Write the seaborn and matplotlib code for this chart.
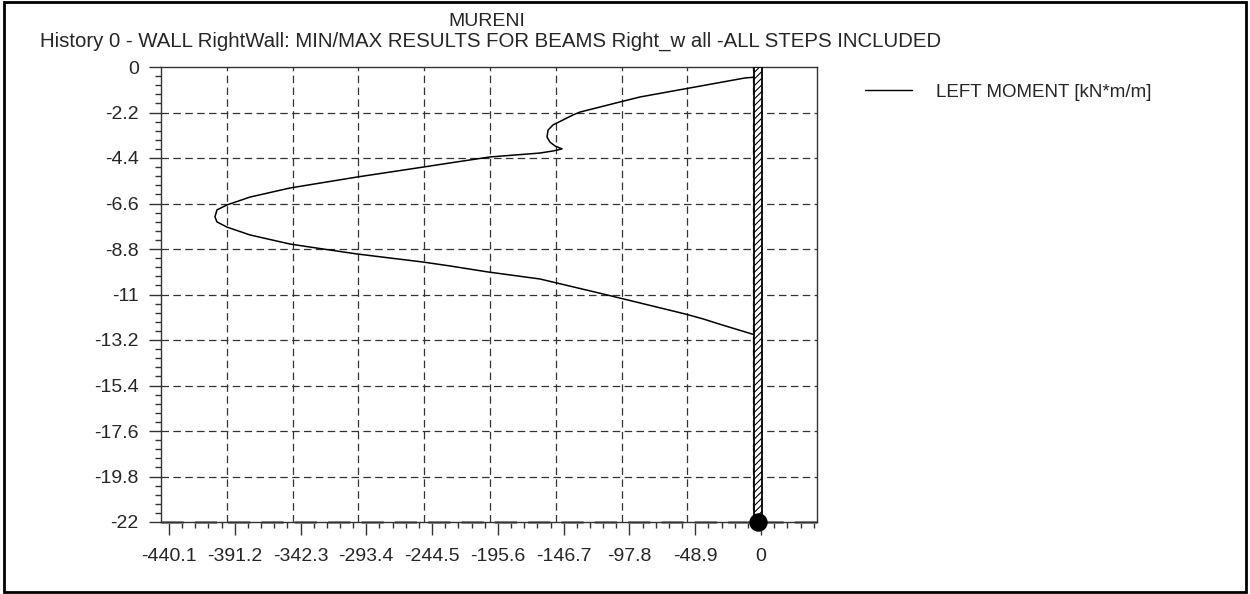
import numpy as np
import pandas as pd
import matplotlib
matplotlib.use("Agg")
import matplotlib.pyplot as plt
import seaborn as sns
from matplotlib.patches import Rectangle
from matplotlib.ticker import FixedLocator, MultipleLocator

# Data
moment = [-2.2, -11.9, -90.0, -104.8, -134.6, -139.8, -154.6, -158.3, -159.1,
          -156.9, -153.1, -147.9, -154.6, -164.3, -201.5, -231.2, -251.3,
          -300.3, -350.1, -379.9, -397.0, -404.4, -405.9, -404.4, -397.0,
          -379.9, -350.1, -325.6, -300.3, -251.3, -231.2, -203.0, -164.3,
          -154.6, -114.5, -56.5, -43.1, -29.0, -6.7, -3.0]
depth = [-0.48, -0.53, -1.45, -1.69, -2.18, -2.32, -2.80, -3.05, -3.38,
         -3.63, -3.82, -3.96, -4.06, -4.16, -4.35, -4.64, -4.84,
         -5.32, -5.85, -6.29, -6.67, -6.91, -7.25, -7.49, -7.74,
         -8.12, -8.56, -8.80, -9.04, -9.43, -9.62, -9.91, -10.25,
         -10.40, -11.02, -11.94, -12.18, -12.47, -12.91, -12.96]

x_ticks = [-440.1, -391.2, -342.3, -293.4, -244.5, -195.6, -146.7, -97.8, -48.9, 0]
x_labels = ["-440.1", "-391.2", "-342.3", "-293.4", "-244.5", "-195.6",
            "-146.7", "-97.8", "-48.9", "0"]
y_ticks = [0, -2.2, -4.4, -6.6, -8.8, -11, -13.2, -15.4, -17.6, -19.8, -22]
y_labels = ["0", "-2.2", "-4.4", "-6.6", "-8.8", "-11", "-13.2", "-15.4",
            "-17.6", "-19.8", "-22"]

# wall (beam) position
wall_x = -2.2
wall_top = 0
wall_bottom = -22

df = pd.DataFrame({"moment": moment, "depth": depth})

sns.set_style("ticks")
plt.rcParams["font.family"] = ["Liberation Sans", "DejaVu Sans"]
plt.rcParams["hatch.linewidth"] = 0.8

fig = plt.figure(figsize=(12.5, 5.94), dpi=100)
ax = fig.add_axes([161 / 1250, 1 - 522 / 594, 656 / 1250, 455 / 594])

x_lo, x_hi = -446.0, 41.6
ax.set_xlim(x_lo, x_hi)
ax.set_ylim(-22, 0)

# grid: vertical lines are offset from tick marks in the original
step = 48.9
for k in range(1, 10):
    ax.axvline(x_lo + k * step, color="#333333", lw=0.9, dashes=(6, 3.5), zorder=1)
for yv in y_ticks[1:-1]:
    ax.axhline(yv, color="#333333", lw=0.9, dashes=(6, 3.5), zorder=1)
ax.axhline(-22, color="#888888", lw=2, dashes=(8, 4), zorder=1, clip_on=False)

sns.lineplot(data=df, x="moment", y="depth", sort=False, estimator=None,
             color="black", lw=1.1, ax=ax, zorder=3)

# wall
ax.add_patch(Rectangle((wall_x - 3.0, wall_bottom), 6.0, wall_top - wall_bottom,
                       facecolor="white", edgecolor="black", hatch="/////",
                       lw=1.3, zorder=4))
sns.scatterplot(x=[wall_x], y=[wall_bottom], color="black", s=150, ax=ax,
                zorder=5, clip_on=False, edgecolor="black")

ax.xaxis.set_major_locator(FixedLocator(x_ticks))
ax.set_xticklabels(x_labels)
ax.xaxis.set_minor_locator(MultipleLocator(9.78))
ax.yaxis.set_major_locator(FixedLocator(y_ticks))
ax.set_yticklabels(y_labels)
ax.yaxis.set_minor_locator(MultipleLocator(0.44))
ax.tick_params(which="major", length=9, width=1, labelsize=14, color="#333333")
ax.tick_params(which="minor", length=4.5, width=1, color="#333333")
ax.tick_params(axis="x", pad=10)
ax.tick_params(axis="y", pad=7)
ax.set_xlabel("")
ax.set_ylabel("")
for s in ax.spines.values():
    s.set_linewidth(1)
    s.set_color("#333333")
if ax.get_legend() is not None:
    ax.get_legend().remove()

fig.text(487 / 1250, 1 - 21 / 594, "MURENI", ha="center", va="center", fontsize=14)
fig.text(40 / 1250, 1 - 41 / 594,
         "History 0 - WALL RightWall: MIN/MAX RESULTS FOR BEAMS Right_w all -ALL STEPS INCLUDED",
         ha="left", va="center", fontsize=14.7)

handles = [plt.Line2D([], [], color="black", lw=1)]
fig.legend(handles, ["LEFT MOMENT [kN*m/m]"], loc="center left", frameon=False,
           bbox_to_anchor=(865 / 1250, 1 - 92 / 594), borderpad=0,
           borderaxespad=0, handlelength=2.5, handletextpad=1.3, fontsize=13.5)

# outer frame
fig.patches.append(Rectangle((0.003, 0.004), 0.994, 0.992, transform=fig.transFigure,
                             fill=False, edgecolor="black", lw=2))

plt.savefig("out.png", dpi=100)
